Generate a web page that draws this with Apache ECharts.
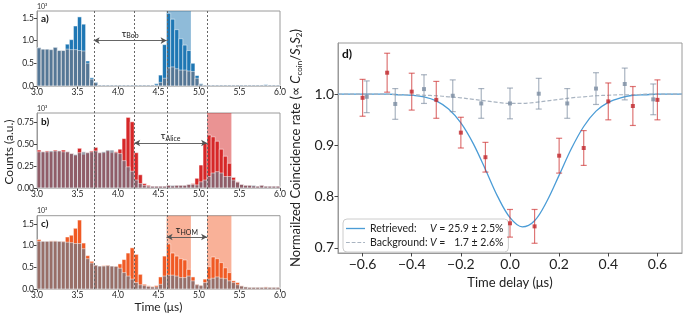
<!DOCTYPE html>
<html>
<head>
<meta charset="utf-8">
<script src="https://cdn.jsdelivr.net/npm/echarts@6/dist/echarts.min.js"></script>
<style>
html, body { margin: 0; padding: 0; background: #fff; }
#main { width: 685px; height: 314px; }
</style>
</head>
<body>
<div id="main"></div>
<script>
// histogram bins, 0.05 us wide starting at 3.00 us
var binStart = 3.0;
var binWidth = 0.05;

// a) Bob
var aSignal = [
  0.84, 0.81, 0.81, 0.80, 0.85, 0.78, 0.78, 0.92, 1.02, 1.32,
  1.52, 1.36, 0.55, 0.18, 0.08, 0.02, 0.02, 0.02, 0.02, 0.02,
  0.02, 0.02, 0.02, 0.02, 0.02, 0.02, 0.02, 0.02, 0.02, 0.05,
  0.24, 0.91, 1.60, 1.47, 1.24, 1.04, 0.90, 0.78, 0.50, 0.23,
  0.05, 0.02, 0.02, 0.02, 0.02, 0.02, 0.02, 0.02, 0.02, 0.02,
  0.02, 0.02, 0.02, 0.02, 0.02, 0.02, 0.03, 0.02, 0.02, 0.02
];
var aBackground = [
  0.84, 0.81, 0.81, 0.80, 0.85, 0.78, 0.78, 0.81, 0.80, 0.80,
  0.78, 0.77, 0.50, 0.15, 0.07, 0.02, 0.02, 0.02, 0.02, 0.02,
  0.02, 0.02, 0.02, 0.02, 0.02, 0.02, 0.02, 0.02, 0.02, 0.02,
  0.08, 0.17, 0.40, 0.42, 0.38, 0.35, 0.35, 0.33, 0.32, 0.17,
  0.04, 0.02, 0.02, 0.02, 0.02, 0.02, 0.02, 0.02, 0.02, 0.02,
  0.02, 0.02, 0.02, 0.02, 0.02, 0.02, 0.02, 0.02, 0.02, 0.02
];

// b) Alice
var bSignal = [
  0.43, 0.41, 0.42, 0.41, 0.43, 0.42, 0.43, 0.41, 0.39, 0.37,
  0.45, 0.38, 0.40, 0.42, 0.46, 0.40, 0.40, 0.42, 0.40, 0.41,
  0.44, 0.56, 0.80, 0.75, 0.40, 0.15, 0.05, 0.03, 0.02, 0.02,
  0.02, 0.02, 0.03, 0.02, 0.03, 0.03, 0.03, 0.04, 0.05, 0.11,
  0.26, 0.51, 0.60, 0.58, 0.53, 0.44, 0.36, 0.28, 0.12, 0.07,
  0.04, 0.03, 0.03, 0.02, 0.02, 0.03, 0.02, 0.02, 0.02, 0.02
];
var bBackground = [
  0.41, 0.41, 0.41, 0.42, 0.42, 0.42, 0.41, 0.41, 0.39, 0.38,
  0.40, 0.41, 0.40, 0.41, 0.42, 0.40, 0.41, 0.43, 0.43, 0.40,
  0.39, 0.31, 0.24, 0.19, 0.09, 0.05, 0.03, 0.02, 0.02, 0.02,
  0.02, 0.02, 0.03, 0.03, 0.03, 0.03, 0.03, 0.04, 0.04, 0.035,
  0.07, 0.09, 0.13, 0.17, 0.185, 0.17, 0.13, 0.13, 0.09, 0.065,
  0.04, 0.03, 0.03, 0.03, 0.02, 0.03, 0.02, 0.02, 0.02, 0.02
];

// c) HOM
var cSignal = [
  1.14, 1.10, 1.10, 1.11, 1.11, 1.10, 1.10, 1.20, 1.24, 1.40,
  1.59, 1.06, 0.77, 0.64, 0.55, 0.53, 0.54, 0.55, 0.53, 0.53,
  0.58, 0.68, 0.83, 0.95, 0.80, 0.34, 0.11, 0.075, 0.06, 0.08,
  0.28, 0.76, 1.04, 0.83, 0.76, 0.70, 0.67, 0.455, 0.28, 0.11,
  0.09, 0.23, 0.515, 0.74, 0.70, 0.61, 0.49, 0.38, 0.19, 0.15,
  0.075, 0.05, 0.04, 0.04, 0.04, 0.04, 0.05, 0.04, 0.04, 0.04
];
var cBackground = [
  1.10, 1.10, 1.10, 1.10, 1.10, 1.10, 1.09, 1.08, 1.07, 1.05,
  1.05, 0.93, 0.70, 0.60, 0.55, 0.53, 0.53, 0.54, 0.53, 0.52,
  0.48, 0.38, 0.30, 0.23, 0.15, 0.10, 0.08, 0.06, 0.05, 0.05,
  0.11, 0.30, 0.32, 0.32, 0.30, 0.265, 0.265, 0.30, 0.19, 0.10,
  0.08, 0.15, 0.23, 0.25, 0.28, 0.25, 0.24, 0.19, 0.15, 0.10,
  0.07, 0.05, 0.04, 0.04, 0.04, 0.04, 0.04, 0.04, 0.04, 0.04
];

var histYMax = [1.65, 0.85, 1.69];
var aYTicks = [0, 0.5, 1.0, 1.5];
var bYTicks = [0, 0.25, 0.5, 0.75];
var cYTicks = [0, 0.5, 1.0, 1.5];
var markerTimes = [3.7, 4.2, 4.6, 5.1];   // dotted lines
var aWindow = [4.6, 4.9];
var bWindow = [5.1, 5.4];
var cWindows = [[4.6, 4.9], [5.1, 5.4]];
var tauBob = [3.7, 4.6, 1.0];
var tauAlice = [4.2, 5.1, 0.51];
var tauHom = [4.6, 5.1, 1.2];

// d) coincidence vs delay
var retX = [-0.6, -0.5, -0.4, -0.3, -0.2, -0.1, 0.0, 0.1, 0.2, 0.3, 0.4, 0.5, 0.6];
var retY = [0.993, 1.042, 1.005, 0.989, 0.925, 0.877, 0.748, 0.742, 0.880, 0.895, 0.986, 0.977, 0.989];
var retErr = [0.036, 0.038, 0.036, 0.036, 0.030, 0.029, 0.027, 0.033, 0.034, 0.034, 0.036, 0.038, 0.039];
var bgX = [-0.583, -0.467, -0.35, -0.233, -0.117, 0.0, 0.117, 0.233, 0.35, 0.467, 0.583];
var bgY = [0.995, 0.981, 1.010, 0.997, 0.982, 0.982, 1.001, 0.982, 1.011, 1.020, 0.990];
var bgErr = [0.031, 0.030, 0.028, 0.031, 0.029, 0.030, 0.030, 0.029, 0.031, 0.031, 0.030];
var fitX = [-0.70, -0.65, -0.60, -0.55, -0.50, -0.45, -0.40, -0.35, -0.30, -0.25, -0.20, -0.15, -0.10, -0.05,
  0.00, 0.05, 0.10, 0.15, 0.20, 0.25, 0.30, 0.35, 0.40, 0.45, 0.50, 0.55, 0.60, 0.65, 0.70];
var retrievedFit = [1.000, 1.000, 1.000, 1.000, 1.000, 0.999, 0.998, 0.995, 0.987, 0.971, 0.944, 0.904, 0.853, 0.800,
  0.759, 0.741, 0.753, 0.791, 0.842, 0.894, 0.937, 0.967, 0.984, 0.993, 0.998, 0.999, 1.000, 1.000, 1.000];
var backgroundFit = [1.000, 1.000, 1.000, 1.000, 1.000, 0.999, 0.999, 0.998, 0.997, 0.995, 0.993, 0.990, 0.987, 0.984,
  0.982, 0.982, 0.984, 0.987, 0.990, 0.993, 0.995, 0.997, 0.998, 0.999, 0.999, 1.000, 1.000, 1.000, 1.000];
var dXTicks = [-0.6, -0.4, -0.2, 0.0, 0.2, 0.4, 0.6];
var dYTicks = [0.7, 0.8, 0.9, 1.0];

var FONT = 'Lato';
var overlay = 'rgba(110,120,135,0.68)';
var frameColor = '#9a9a9a';

function histSeries(idx, values, color, z) {
  return {
    type: 'custom', xAxisIndex: idx, yAxisIndex: idx, z: z, silent: true,
    data: values.map(function (v, i) { return [binStart + i * binWidth, v]; }),
    renderItem: function (params, api) {
      var x0 = api.value(0), h = api.value(1);
      var p0 = api.coord([x0, 0]);
      var p1 = api.coord([x0 + binWidth, h]);
      return {
        type: 'rect',
        shape: { x: p0[0], y: p1[1], width: p1[0] - p0[0], height: p0[1] - p1[1] },
        style: { fill: color, stroke: 'rgba(255,255,255,0.7)', lineWidth: 0.7 }
      };
    }
  };
}

function spanSeries(idx, windows, color) {
  return {
    type: 'line', xAxisIndex: idx, yAxisIndex: idx, data: [], z: 1, silent: true,
    markArea: {
      silent: true, itemStyle: { color: color },
      data: windows.map(function (w) { return [{ xAxis: w[0] }, { xAxis: w[1] }]; })
    }
  };
}

function arrowSeries(idx, tau, sub) {
  return {
    type: 'line', xAxisIndex: idx, yAxisIndex: idx, data: [], z: 6, silent: true,
    markLine: {
      silent: true, symbol: ['arrow', 'arrow'], symbolSize: [5, 6],
      lineStyle: { color: '#555', type: 'solid', width: 0.9 },
      label: {
        show: true, position: 'insideMiddleTop', distance: 1,
        formatter: '{t|τ}{s|' + sub + '}',
        rich: {
          t: { fontSize: 10, lineHeight: 12, color: '#222', fontFamily: FONT },
          s: { fontSize: 7, lineHeight: 7, verticalAlign: 'bottom', color: '#222', fontFamily: FONT }
        }
      },
      data: [[{ coord: [tau[0], tau[2]] }, { coord: [tau[1], tau[2]] }]]
    }
  };
}

function errSeries(xs, ys, errs, color) {
  return {
    type: 'custom', xAxisIndex: 3, yAxisIndex: 3, z: 4, silent: true,
    data: xs.map(function (x, i) { return [x, ys[i], errs[i]]; }),
    renderItem: function (params, api) {
      var x = api.value(0), y = api.value(1), e = api.value(2);
      var t = api.coord([x, y + e]), b = api.coord([x, y - e]);
      var st = { stroke: color, lineWidth: 1.2 };
      return {
        type: 'group', children: [
          { type: 'line', shape: { x1: t[0], y1: t[1], x2: b[0], y2: b[1] }, style: st },
          { type: 'line', shape: { x1: t[0] - 3, y1: t[1], x2: t[0] + 3, y2: t[1] }, style: st },
          { type: 'line', shape: { x1: b[0] - 3, y1: b[1], x2: b[0] + 3, y2: b[1] }, style: st }
        ]
      };
    }
  };
}

function fmtFixed(n) { return function (v) { return Number(v).toFixed(n); }; }

var histTops = [11, 113, 215.7];
var histHeights = [75, 75, 74.3];
var histTicks = [aYTicks, bYTicks, cYTicks];
var histDigits = [1, 2, 1];

var grids = [], xAxes = [], yAxes = [];
for (var i = 0; i < 3; i++) {
  grids.push({ left: 37, top: histTops[i], width: 243, height: histHeights[i], show: true, borderColor: frameColor, borderWidth: 1 });
  xAxes.push({
    gridIndex: i, type: 'value', min: 3, max: 6, interval: 0.5,
    axisLine: { show: true, onZero: false, lineStyle: { color: frameColor } },
    axisTick: { show: true, length: 3, lineStyle: { color: '#444' } },
    axisLabel: { fontSize: 8.5, margin: 2, color: '#222', fontFamily: FONT, formatter: fmtFixed(1) },
    splitLine: { show: false },
    name: i === 2 ? 'Time (μs)' : '', nameLocation: 'middle', nameGap: 10,
    nameTextStyle: { fontSize: 12, color: '#222', fontFamily: FONT, verticalAlign: 'top' }
  });
  yAxes.push({
    gridIndex: i, type: 'value', min: 0, max: histYMax[i],
    name: '10³', nameLocation: 'end', nameGap: 1,
    nameTextStyle: { fontSize: 7, align: 'left', verticalAlign: 'bottom', color: '#333', fontFamily: FONT },
    axisLine: { show: true, onZero: false, lineStyle: { color: frameColor } },
    axisTick: { show: true, length: 3, customValues: histTicks[i], lineStyle: { color: '#444' } },
    axisLabel: { fontSize: 8.5, margin: 3, color: '#222', fontFamily: FONT, customValues: histTicks[i], formatter: fmtFixed(histDigits[i]) },
    splitLine: { show: false }
  });
}

grids.push({ left: 338, top: 43, width: 344, height: 210, show: true, borderColor: frameColor, borderWidth: 1 });
xAxes.push({
  gridIndex: 3, type: 'value', min: -0.7, max: 0.7,
  axisLine: { show: true, onZero: false, lineStyle: { color: frameColor } },
  axisTick: { show: true, length: 3.5, customValues: dXTicks, lineStyle: { color: '#444' } },
  axisLabel: {
    fontSize: 14, margin: 4, color: '#222', fontFamily: FONT, customValues: dXTicks,
    formatter: function (v) { return (v < 0 ? '\u2212' : '') + Math.abs(v).toFixed(1); }
  },
  splitLine: { show: false },
  name: 'Time delay (μs)', nameLocation: 'middle', nameGap: 18,
  nameTextStyle: { fontSize: 13, color: '#222', fontFamily: FONT, verticalAlign: 'top' }
});
yAxes.push({
  gridIndex: 3, type: 'value', min: 0.69, max: 1.1,
  axisLine: { show: true, onZero: false, lineStyle: { color: frameColor } },
  axisTick: { show: true, length: 3.5, customValues: dYTicks, lineStyle: { color: '#444' } },
  axisLabel: { fontSize: 14, margin: 4, color: '#222', fontFamily: FONT, customValues: dYTicks, formatter: fmtFixed(1) },
  splitLine: { show: false },
  name: '{n|Normailzed Coincidence rate (∝ }{i|C}{s|coin}{n|/}{i|S}{s|1}{i|S}{s|2}{n|)}',
  nameLocation: 'middle', nameGap: 34,
  nameTextStyle: {
    color: '#222', fontFamily: FONT,
    rich: {
      n: { fontSize: 13, lineHeight: 16, color: '#222', fontFamily: FONT },
      i: { fontSize: 13, lineHeight: 16, fontStyle: 'italic', color: '#222', fontFamily: FONT },
      s: { fontSize: 8, lineHeight: 9, verticalAlign: 'bottom', color: '#222', fontFamily: FONT }
    }
  }
});

var series = [
  spanSeries(0, [aWindow], 'rgba(31,119,180,0.5)'),
  histSeries(0, aSignal, '#1f77b4', 2),
  histSeries(0, aBackground, overlay, 3),
  arrowSeries(0, tauBob, 'Bob'),

  spanSeries(1, [bWindow], 'rgba(214,39,40,0.5)'),
  histSeries(1, bSignal, '#d62728', 2),
  histSeries(1, bBackground, overlay, 3),
  arrowSeries(1, tauAlice, 'Alice'),

  spanSeries(2, cWindows, 'rgba(244,100,50,0.5)'),
  histSeries(2, cSignal, '#f05a24', 2),
  histSeries(2, cBackground, overlay, 3),
  arrowSeries(2, tauHom, 'HOM'),

  {
    name: 'Retrieved', type: 'line', xAxisIndex: 3, yAxisIndex: 3, z: 2,
    data: fitX.map(function (x, i) { return [x, retrievedFit[i]]; }),
    symbol: 'none', smooth: 0.35,
    lineStyle: { color: '#4b9cd6', width: 1.3 }, itemStyle: { color: '#4b9cd6' }
  },
  {
    name: 'Background', type: 'line', xAxisIndex: 3, yAxisIndex: 3, z: 2,
    data: fitX.map(function (x, i) { return [x, backgroundFit[i]]; }),
    symbol: 'none', smooth: 0.35,
    lineStyle: { color: '#a9b4c1', width: 1.2, type: [4, 2] }, itemStyle: { color: '#a9b4c1' }
  },
  errSeries(bgX, bgY, bgErr, 'rgba(125,140,160,0.65)'),
  errSeries(retX, retY, retErr, 'rgba(205,45,45,0.65)'),
  {
    type: 'scatter', xAxisIndex: 3, yAxisIndex: 3, z: 5, silent: true,
    symbol: 'rect', symbolSize: 4, itemStyle: { color: '#7c8da3' },
    data: bgX.map(function (x, i) { return [x, bgY[i]]; })
  },
  {
    type: 'scatter', xAxisIndex: 3, yAxisIndex: 3, z: 5, silent: true,
    symbol: 'rect', symbolSize: 4, itemStyle: { color: '#c0282d' },
    data: retX.map(function (x, i) { return [x, retY[i]]; })
  }
];

var legendRich = {
  n: { width: 60, fontSize: 10.5, color: '#222', fontFamily: FONT },
  v: { fontSize: 10.5, fontStyle: 'italic', color: '#222', fontFamily: FONT },
  e: { fontSize: 10.5, color: '#222', fontFamily: FONT },
  m: { width: 58, align: 'right', fontSize: 10.5, color: '#222', fontFamily: FONT }
};

var chart = echarts.init(document.getElementById('main'));
chart.setOption({
  animation: false,
  textStyle: { fontFamily: FONT },
  grid: grids,
  xAxis: xAxes,
  yAxis: yAxes,
  legend: {
    data: [
      { name: 'Retrieved', icon: 'path://M0,0H20V1.4H0Z' },
      { name: 'Background', icon: 'path://M0,0H4V1.2H0Z M6,0H10V1.2H6Z M12,0H16V1.2H12Z M18,0H20V1.2H18Z' }
    ],
    orient: 'vertical', left: 343, top: 219,
    itemWidth: 19, itemHeight: 8, itemGap: 3, padding: [4, 5, 4, 3],
    borderColor: '#ccc', borderWidth: 1, borderRadius: 4, backgroundColor: 'rgba(255,255,255,0.85)',
    textStyle: { fontSize: 10.5, color: '#222', fontFamily: FONT, rich: legendRich },
    formatter: function (name) {
      return name === 'Retrieved'
        ? '{n|Retrieved:}{v|V}{e| =}{m|25.9 ± 2.5%}'
        : '{n|Background:}{v|V}{e| =}{m|1.7 ± 2.6%}';
    }
  },
  series: series
});

// dotted markers across panels a-c and panel labels
var topPx = chart.convertToPixel({ yAxisIndex: 0 }, histYMax[0]);
var botPx = chart.convertToPixel({ yAxisIndex: 2 }, 0);
var graphics = markerTimes.map(function (t) {
  var px = Math.round(chart.convertToPixel({ xAxisIndex: 0 }, t)) + 0.5;
  return {
    type: 'line', z: 20, silent: true,
    shape: { x1: px, y1: topPx, x2: px, y2: botPx },
    style: { stroke: '#666', lineWidth: 1, lineDash: [2, 2] }
  };
});
var labelStyle = { fontSize: 10, fontWeight: 'bold', fill: '#111', fontFamily: FONT };
[['a)', 41, 14], ['b)', 41, 117], ['c)', 41, 219]].forEach(function (l) {
  graphics.push({ type: 'text', left: l[1], top: l[2], z: 20, style: Object.assign({ text: l[0] }, labelStyle) });
});
graphics.push({ type: 'text', left: 342, top: 48, z: 20, style: { text: 'd)', fontSize: 12, fontWeight: 'bold', fill: '#111', fontFamily: FONT } });
graphics.push({
  type: 'text', x: 9, y: 152, rotation: Math.PI / 2, z: 20,
  style: { text: 'Counts (a.u.)', fontSize: 12, fill: '#222', fontFamily: FONT, align: 'center', verticalAlign: 'middle' }
});
chart.setOption({ graphic: graphics });
</script>
</body>
</html>
